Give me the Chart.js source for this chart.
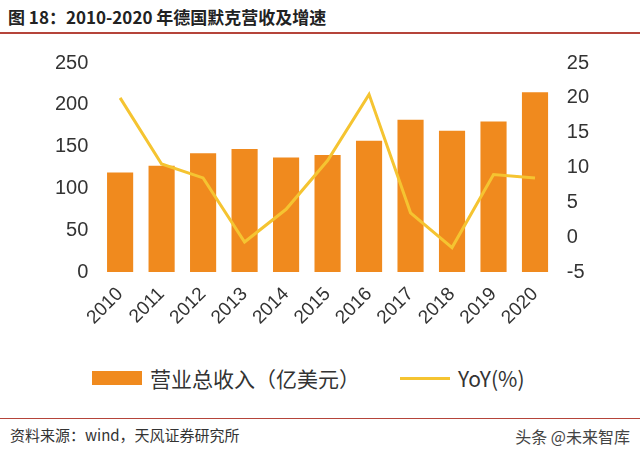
<!DOCTYPE html>
<html><head><meta charset="utf-8">
<script src="https://cdn.jsdelivr.net/npm/chart.js@4"></script>
<style>
body{margin:0;width:640px;height:452px;background:#fff;font-family:"Noto Sans CJK SC","Noto Sans",sans-serif;position:relative;overflow:hidden}
#title{position:absolute;left:8px;top:4px;font-size:17px;font-weight:bold;color:#222}
#tl{position:absolute;left:0;top:32px;width:640px;height:2px;background:#b5443a}
#wrap{position:absolute;left:0;top:40px;width:640px;height:320px}
#legend{position:absolute;top:363px;left:0;width:640px;font-size:21px;color:#333}
#bl{position:absolute;left:0;top:418px;width:640px;height:1px;background:#b5443a}
#src{position:absolute;left:10px;top:424px;font-size:15px;color:#333}
#wm{position:absolute;right:10px;top:424px;font-size:16px;color:#444}
</style></head><body>
<div id="title">图 18：2010-2020 年德国默克营收及增速</div>
<div id="tl"></div>
<div id="wrap"><canvas id="c"></canvas></div>
<div id="legend">
<span style="position:absolute;left:92px;top:8px;width:50px;height:14px;background:#f08a1e"></span>
<span style="position:absolute;left:150px;top:0">营业总收入（亿美元）</span>
<span style="position:absolute;left:400px;top:14px;width:50px;height:3px;background:#f5c431"></span>
<span style="position:absolute;left:458px;top:0">YoY(%)</span>
</div>
<div id="bl"></div>
<div id="src">资料来源：wind，天风证券研究所</div>
<div id="wm">头条 @未来智库</div>
<script>
const categories=["2010","2011","2012","2013","2014","2015","2016","2017","2018","2019","2020"];
const revenue=[119,127,142,147,137,140,157,182,169,180,215];
const yoy=[20,10.5,8.5,-0.7,4,11,20.5,3.5,-1.5,9,8.5];
new Chart(document.getElementById('c'),{
data:{labels:categories,datasets:[
{type:'line',data:yoy,yAxisID:'y1',borderColor:'#f5c431',borderWidth:3,pointRadius:0,tension:0,order:0},
{type:'bar',data:revenue,yAxisID:'y',backgroundColor:'#f08a1e',categoryPercentage:0.63,barPercentage:1,order:1}
]},
options:{responsive:true,maintainAspectRatio:false,animation:false,
layout:{padding:{left:52,right:48,top:23,bottom:28}},
plugins:{legend:{display:false},tooltip:{enabled:false}},
scales:{
x:{grid:{display:false},border:{display:false},ticks:{maxRotation:45,minRotation:45,color:'#333',font:{size:19}}},
y:{min:0,max:250,grid:{display:false},border:{display:false},ticks:{stepSize:50,color:'#333',font:{size:20}}},
y1:{position:'right',min:-5,max:25,grid:{display:false},border:{display:false},ticks:{stepSize:5,color:'#333',font:{size:20}}}
}}});
</script></body></html>
